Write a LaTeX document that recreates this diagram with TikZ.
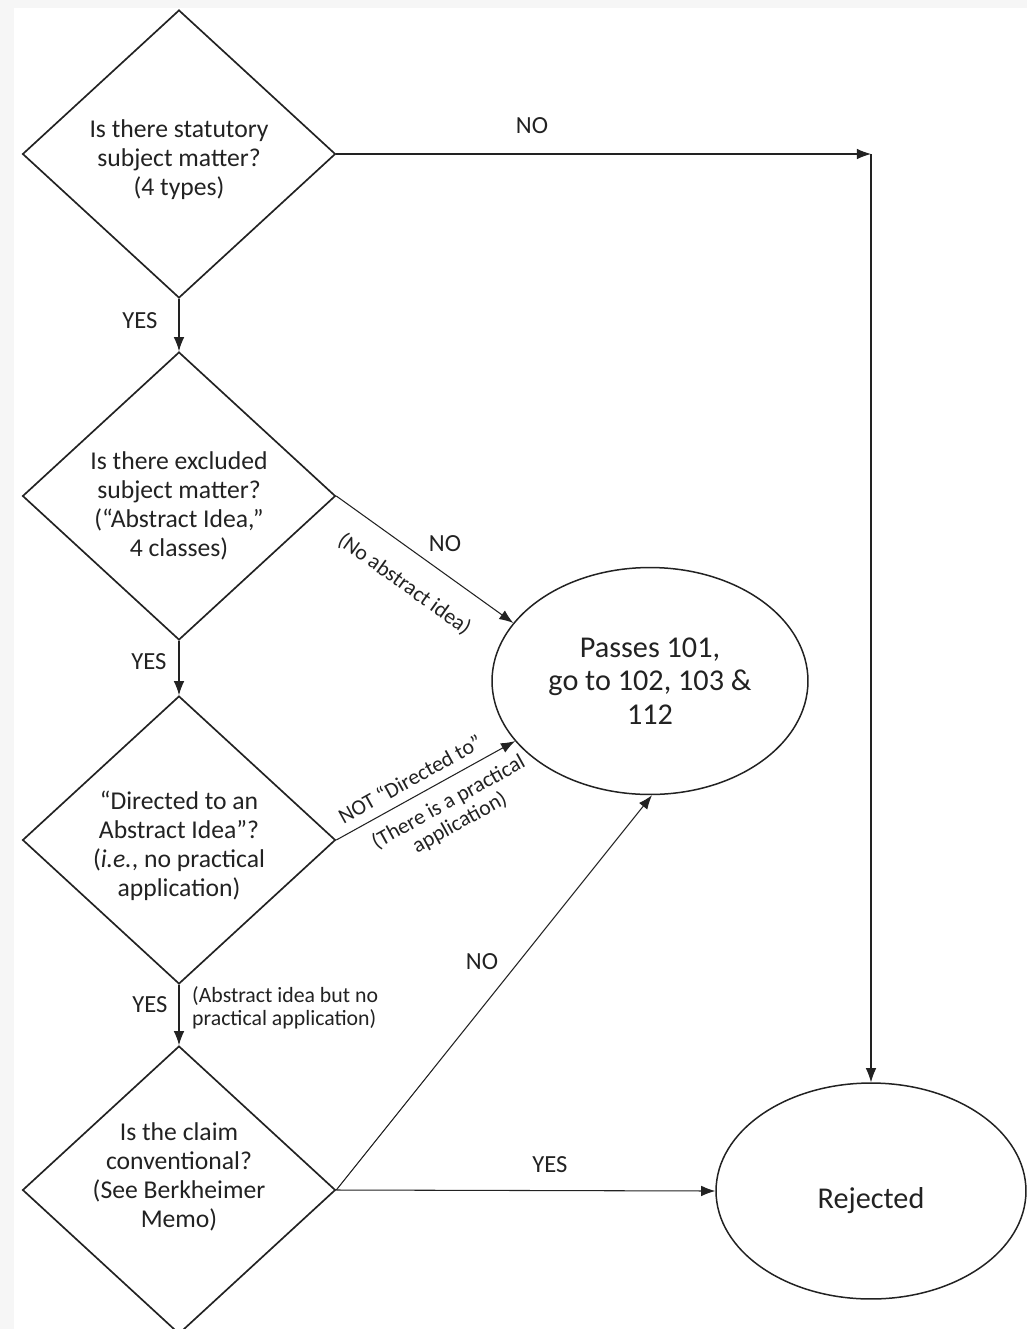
\documentclass[tikz,border=0pt]{standalone}
\usepackage{fontspec}
\setmainfont{Carlito}
\usetikzlibrary{shapes.geometric,arrows.meta}
\definecolor{pagegray}{HTML}{F6F6F6}
\definecolor{ink}{HTML}{222222}
\tikzset{
  >={Latex[length=8pt,width=6pt]},
  question/.style={draw=ink, line width=0.95pt, diamond, minimum width=6.26cm, minimum height=5.76cm, inner sep=0pt},
  qtext/.style={text=ink, align=center, font=\fontsize{14.6}{16.5}\selectfont},
  outcome/.style={draw=ink, line width=0.85pt, ellipse, text=ink, align=center, font=\fontsize{17.2}{19.2}\selectfont},
  flow/.style={draw=ink, line width=0.6pt, ->},
  lbl/.style={text=ink, font=\fontsize{14}{16}\selectfont},
  note/.style={text=ink, align=center, font=\fontsize{12.4}{13.2}\selectfont}
}

\begin{document}
\begin{tikzpicture}[x=0.02cm, y=-0.02cm]
  \useasboundingbox (0,0) rectangle (1027,1329);
  \fill[pagegray] (0,0) rectangle (1027,1329);
  \fill[white] (14,8) rectangle (1027,1329);

  % decisions
  \node[question] (d1) at (179,154) {};
  \node[qtext] (d1txt) at (179,160) {Is there statutory\\subject matter?\\(4 types)};
  \node[question] (d2) at (179,496) {};
  \node[qtext] (d2txt) at (179,506) {Is there excluded\\subject matter?\\(“Abstract Idea,”\\4 classes)};
  \node[question] (d3) at (179,840) {};
  \node[qtext] (d3txt) at (179,846) {“Directed to an\\Abstract Idea”?\\(\textit{i.e.}, no practical\\application)};
  \node[question] (d4) at (179,1190) {};
  \node[qtext] (d4txt) at (179,1177) {Is the claim\\conventional?\\(See Berkheimer\\Memo)};

  % outcomes
  \node[outcome, minimum width=6.32cm, minimum height=4.54cm] (pass) at (650,681) {Passes 101,\\go to 102, 103 \&\\112};
  \node[outcome, minimum width=6.2cm, minimum height=4.32cm] (rej) at (871,1191) {};
  \node[outcome, draw=none] (rejtxt) at (871,1201) {Rejected};
  \coordinate (turn) at (871,154);

  % connectors
  \draw[flow] (d1.east) -- (turn);
  \draw[flow] (turn) -- (rej.north);
  \draw[flow] (d1.south) -- (d2.north);
  \draw[flow] (d2.south) -- (d3.north);
  \draw[flow] (d3.south) -- (d4.north);
  \draw[flow] (d2.east) -- (pass.157)
    node[note, sloped, pos=0.49, below=0.32cm] (d2note) {(No abstract idea)};
  \draw[flow] (d3.east) -- (pass.204)
    node[note, sloped, pos=0.46, above=2pt] (d3up) {NOT “Directed to”}
    node[note, sloped, pos=0.57, below=3pt] (d3down) {(There is a practical\\application)};
  \draw[flow] (d4.east) -- (pass.271);
  \draw[flow] (d4.east) -- (rej.west);

  % answers
  \node[lbl] (no1) at (532,126) {NO};
  \node[lbl] (yes1) at (140,321) {YES};
  \node[lbl] (no2) at (445,544) {NO};
  \node[lbl] (yes2) at (149,662) {YES};
  \node[lbl] (yes3) at (150,1005) {YES};
  \node[note, align=left, anchor=west] (d3note) at (186,1008) {(Abstract idea but no\\practical application)};
  \node[lbl] (no4) at (482,962) {NO};
  \node[lbl] (yes4) at (550,1165) {YES};
\end{tikzpicture}
\end{document}
